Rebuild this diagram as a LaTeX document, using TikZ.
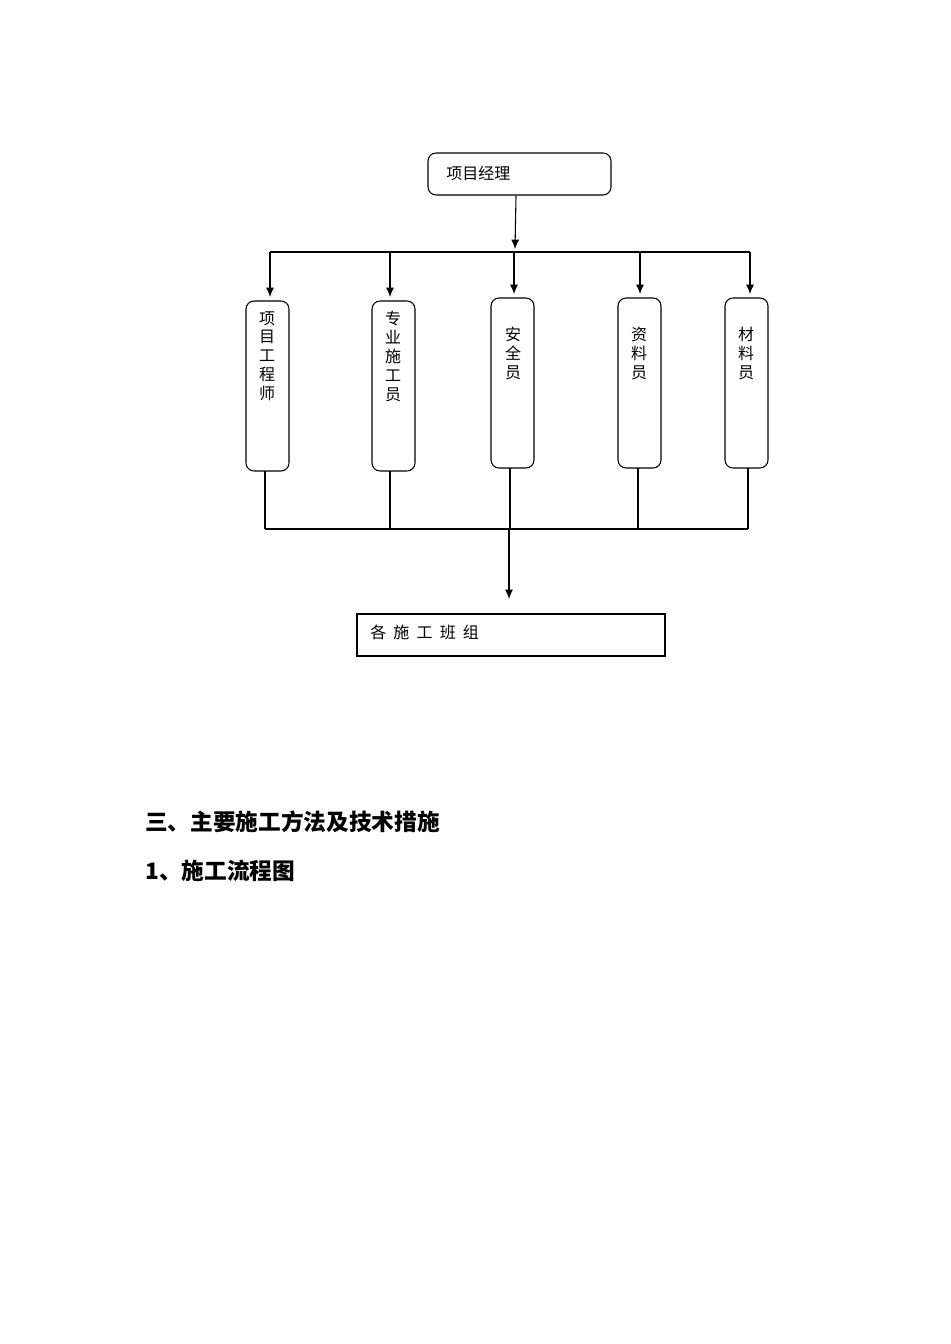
\documentclass[tikz,border=0pt]{standalone}
\usepackage{fontspec}
\newfontfamily\cjk{Noto Sans CJK SC}
\usetikzlibrary{arrows.meta}
\begin{document}
\begin{tikzpicture}[x=0.75pt,y=-0.75pt,
  every node/.style={font=\cjk\fontsize{12}{14.2}\selectfont, inner sep=0pt},
  box/.style={draw, line width=0.8pt},
  rbox/.style={box, rounded corners=6pt},
  ln/.style={line width=0.8pt},
  arr/.style={ln, -{Latex[length=7pt,width=6pt]}},
  vt/.style={align=center, anchor=north}]
\useasboundingbox (0,0) rectangle (950,1344);
\draw[rbox] (428,153) rectangle (611,195);
\node[anchor=west] (pm) at (446,173) {项目经理};
\coordinate (pmb) at (516,196);
\coordinate (hl) at (270,252); \coordinate (hr) at (750,252);
\draw[ln] (hl) -- (hr);
\draw[arr] (pmb) -- (515,249);
\foreach \x/\a/\t/\b [count=\i] in {246/301/471/270, 372/301/471/390, 491/298/468/514, 618/298/468/640, 725/298/468/750}{
  \draw[rbox] (\x,\a) rectangle (\x+43,\t);
  \draw[arr] (\b,252) -- (\b,\a-4);
}
\node[vt] (b1) at (267,311) {项\\目\\工\\程\\师};
\node[vt] (b2) at (393,311) {专\\业\\施\\工\\员};
\node[vt] (b3) at (513,327) {安\\全\\员};
\node[vt] (b4) at (639,327) {资\\料\\员};
\node[vt] (b5) at (746,327) {材\\料\\员};
\draw[ln] (265,471) -- (265,529);
\draw[ln] (390,471) -- (390,529);
\draw[ln] (510,468) -- (510,529);
\draw[ln] (638,468) -- (638,529);
\draw[ln] (748,468) -- (748,529);
\draw[ln] (265,529) -- (748,529);
\draw[arr] (509,529) -- (509,599);
\draw[box] (357,614) rectangle (665,656);
\node[anchor=west] (team) at (370,632) {各\ \ 施\ \ 工\ \ 班\ \ 组};
\node[anchor=west, font=\cjk\bfseries\fontsize{17}{20}\selectfont] (h1) at (145,822) {三、主要施工方法及技术措施};
\node[anchor=west, font=\cjk\bfseries\fontsize{17}{20}\selectfont] (h2) at (145,871) {1、施工流程图};
\end{tikzpicture}
\end{document}
